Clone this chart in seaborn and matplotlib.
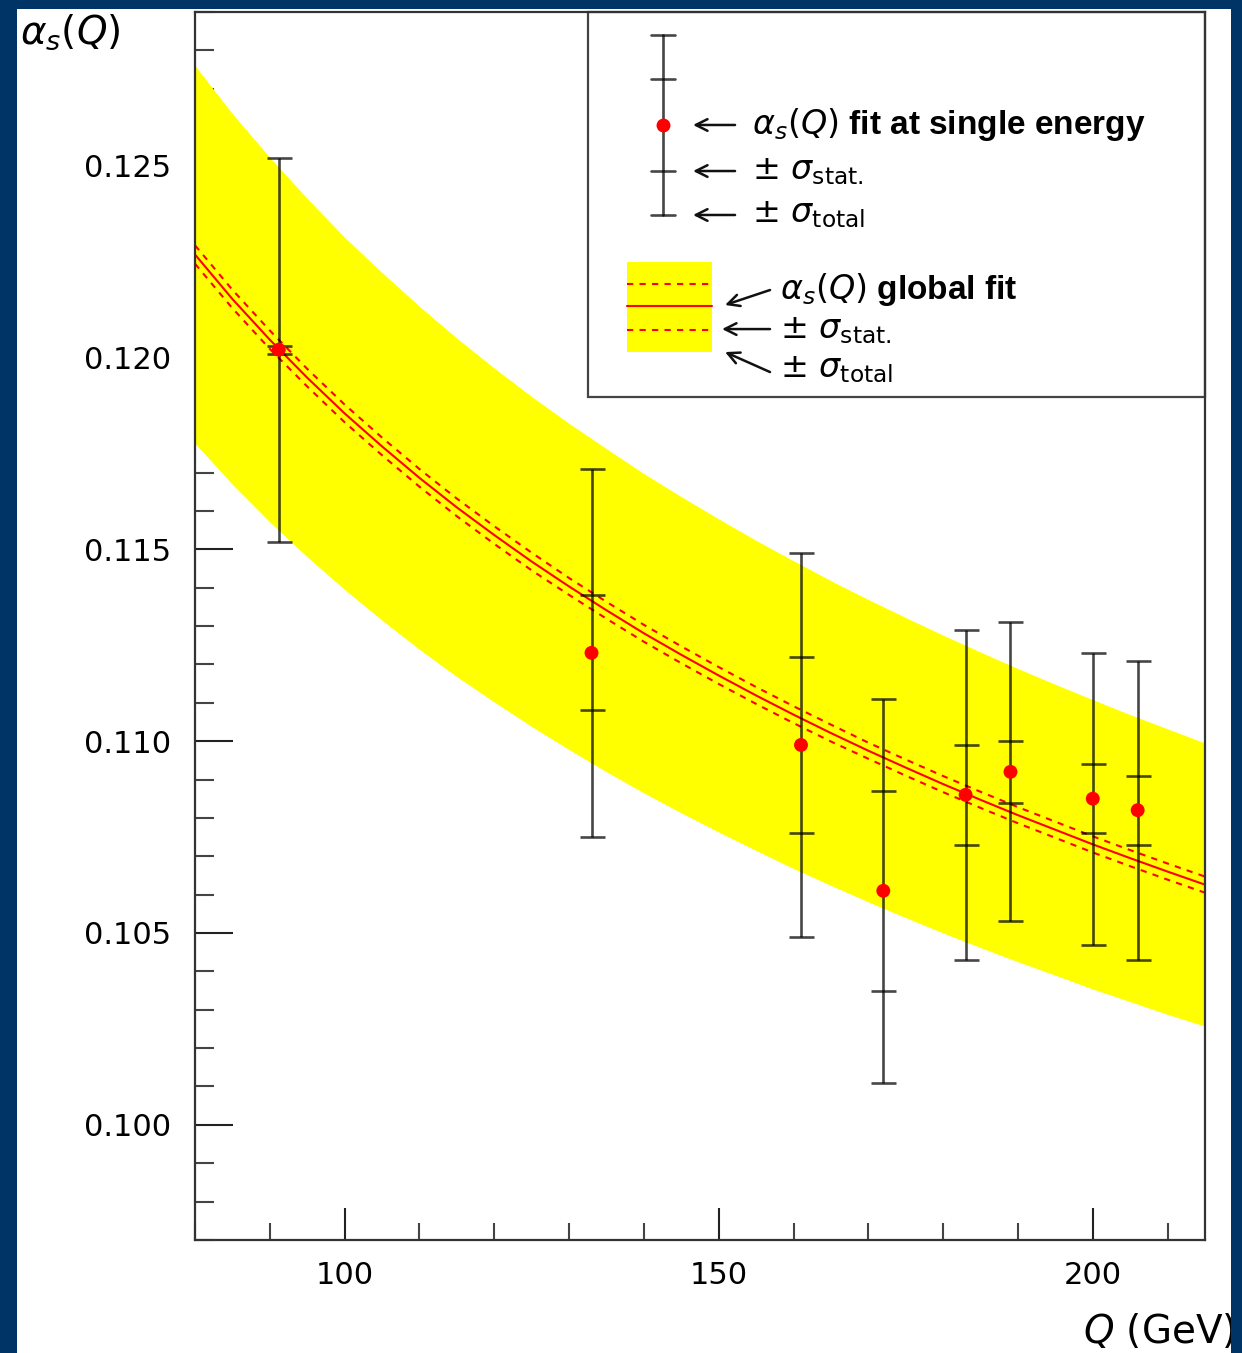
import matplotlib
matplotlib.use("Agg")
import matplotlib.pyplot as plt
import seaborn as sns
from matplotlib.patches import Rectangle
from matplotlib.ticker import MultipleLocator, FormatStrFormatter

# alpha_s fitted at each single centre-of-mass energy
energies = [91.2, 133, 161, 172, 183, 189, 200, 206]
alpha_fit = [0.1202, 0.1123, 0.1099, 0.1061, 0.1086, 0.1092, 0.1085, 0.1082]
stat_err = [0.0001, 0.0015, 0.0023, 0.0026, 0.0013, 0.0008, 0.0009, 0.0009]
total_err = [0.0050, 0.0048, 0.0050, 0.0050, 0.0043, 0.0039, 0.0038, 0.0039]

# global fit: running alpha_s(Q) with its uncertainties
q_grid = [80, 85, 90, 95, 100, 105, 110, 115, 120, 125, 130, 135, 140, 145,
          150, 155, 160, 165, 170, 175, 180, 185, 190, 195, 200, 205, 210, 215]
alpha_global = [0.12268, 0.12152, 0.12046, 0.11947, 0.11854, 0.11768, 0.11686, 0.11609,
                0.11537, 0.11468, 0.11403, 0.11341, 0.11281, 0.11225, 0.11171, 0.11119,
                0.11069, 0.11021, 0.10975, 0.10931, 0.10888, 0.10847, 0.10807, 0.10769,
                0.10731, 0.10695, 0.10660, 0.10626]
global_stat = [0.00024, 0.00024, 0.00024, 0.00023, 0.00023, 0.00023, 0.00023, 0.00023,
               0.00023, 0.00023, 0.00022, 0.00022, 0.00022, 0.00022, 0.00022, 0.00022,
               0.00022, 0.00022, 0.00021, 0.00021, 0.00021, 0.00021, 0.00021, 0.00021,
               0.00021, 0.00021, 0.00021, 0.00021]
global_total = [0.00492, 0.00483, 0.00475, 0.00467, 0.00459, 0.00453, 0.00447, 0.00441,
                0.00435, 0.00430, 0.00425, 0.00421, 0.00416, 0.00412, 0.00408, 0.00404,
                0.00401, 0.00397, 0.00394, 0.00391, 0.00388, 0.00385, 0.00382, 0.00379,
                0.00377, 0.00374, 0.00372, 0.00369]

x_ticks = [100, 150, 200]
y_ticks = [0.100, 0.105, 0.110, 0.115, 0.120, 0.125]

sns.set_theme(style="ticks")
plt.rcParams["font.family"] = ["DejaVu Sans"]
plt.rcParams["text.color"] = "black"

W, H = 1242, 1353
fig = plt.figure(figsize=(W / 100, H / 100), dpi=100, facecolor="white")
ax = fig.add_axes([195 / W, 113 / H, 1010 / W, 1228 / H])
ax.set_facecolor("white")

band_lo = [a - e for a, e in zip(alpha_global, global_total)]
band_hi = [a + e for a, e in zip(alpha_global, global_total)]
stat_lo = [a - e for a, e in zip(alpha_global, global_stat)]
stat_hi = [a + e for a, e in zip(alpha_global, global_stat)]

ax.fill_between(q_grid, band_lo, band_hi, color="#ffff00", lw=0, zorder=1)
sns.lineplot(x=q_grid, y=alpha_global, color="red", lw=1.5, ax=ax, zorder=3)
for s in (stat_lo, stat_hi):
    ax.plot(q_grid, s, color="red", lw=1.5, linestyle=(0, (3, 3)), zorder=3)

ax.errorbar(energies, alpha_fit, yerr=total_err, fmt="none", ecolor="black", alpha=0.72,
            elinewidth=1.9, capsize=9, capthick=1.9, zorder=4)
ax.errorbar(energies, alpha_fit, yerr=stat_err, fmt="none", ecolor="black", alpha=0.72,
            elinewidth=0, capsize=9, capthick=1.9, zorder=4)
sns.scatterplot(x=energies, y=alpha_fit, color="red", s=100, edgecolor="none",
                zorder=5, ax=ax, legend=False)

ax.set_xlim(80, 215)
ax.set_ylim(0.097, 0.129)
ax.set_xticks(x_ticks)
ax.xaxis.set_minor_locator(MultipleLocator(10))
ax.set_yticks(y_ticks)
ax.yaxis.set_minor_locator(MultipleLocator(0.001))
ax.yaxis.set_major_formatter(FormatStrFormatter("%.3f"))
ax.set_xlabel("")
ax.set_ylabel("")

ax.tick_params(axis="y", which="major", direction="in", length=27, width=1.5, color="#222",
               labelsize=22, pad=17, left=True, right=False, labelcolor="black")
ax.tick_params(axis="y", which="minor", direction="in", length=14, width=1.5, color="#444",
               left=True, right=False)
ax.tick_params(axis="x", which="major", direction="in", length=23, width=1.5, color="#222",
               labelsize=22, pad=15, bottom=True, top=False, labelcolor="black")
ax.tick_params(axis="x", which="minor", direction="in", length=12, width=1.5, color="#444",
               bottom=True, top=False)
for sp in ax.spines.values():
    sp.set_visible(True)
    sp.set_linewidth(1.6)
    sp.set_color("#333")
    sp.set_zorder(10)

# legend panel
T = ax.transAxes
ax.add_patch(Rectangle((0.3891, 0.6865), 0.6109, 0.3135, transform=T, facecolor="white",
                       edgecolor="#444", lw=1.6, zorder=6, clip_on=False))

bx = 0.4634
cap = 0.0119
ax.plot([bx, bx], [0.8347, 0.9813], transform=T, color="black", alpha=0.72, lw=1.9,
        zorder=7, clip_on=False)
for yy in (0.9813, 0.9454, 0.8705, 0.8347):
    ax.plot([bx - cap, bx + cap], [yy, yy], transform=T, color="black", alpha=0.72, lw=1.9,
            zorder=7, clip_on=False)
ax.plot([bx], [0.9080], transform=T, marker="o", ms=10, color="red", mec="none",
        zorder=8, clip_on=False)

arrow = dict(arrowstyle="->,head_length=0.7,head_width=0.35", lw=1.8, color="#111",
             shrinkA=0, shrinkB=0)
for yy in (0.9080, 0.8705, 0.8347):
    ax.annotate("", xy=(0.4931, yy), xytext=(0.5347, yy), xycoords=T, textcoords=T,
                arrowprops=arrow, zorder=8)

leg_font = dict(transform=T, va="center", ha="left", zorder=9, fontsize=24, color="black",
                family=["Liberation Sans", "DejaVu Sans"], fontweight="bold")
ax.text(0.5515, 0.9080, r"$\alpha_s(Q)$ fit at single energy", **leg_font)
ax.text(0.5515, 0.8705, r"$\pm\ \sigma_{\mathrm{stat.}}$", **leg_font)
ax.text(0.5515, 0.8347, r"$\pm\ \sigma_{\mathrm{total}}$", **leg_font)

ax.add_patch(Rectangle((0.4277, 0.7231), 0.0842, 0.0733, transform=T, facecolor="#ffff00",
                       lw=0, zorder=7, clip_on=False))
ax.plot([0.4277, 0.5119], [0.7606, 0.7606], transform=T, color="red", lw=1.5, zorder=8,
        clip_on=False)
for yy in (0.7785, 0.7410):
    ax.plot([0.4277, 0.5119], [yy, yy], transform=T, color="red", lw=1.5,
            linestyle=(0, (3, 3)), zorder=8, clip_on=False)

ax.annotate("", xy=(0.5248, 0.7614), xytext=(0.5693, 0.7736), xycoords=T, textcoords=T,
            arrowprops=arrow, zorder=8)
ax.annotate("", xy=(0.5218, 0.7418), xytext=(0.5693, 0.7418), xycoords=T, textcoords=T,
            arrowprops=arrow, zorder=8)
ax.annotate("", xy=(0.5248, 0.7231), xytext=(0.5693, 0.7068), xycoords=T, textcoords=T,
            arrowprops=arrow, zorder=8)
ax.text(0.5792, 0.7744, r"$\alpha_s(Q)$ global fit", **leg_font)
ax.text(0.5792, 0.7410, r"$\pm\ \sigma_{\mathrm{stat.}}$", **leg_font)
ax.text(0.5792, 0.7085, r"$\pm\ \sigma_{\mathrm{total}}$", **leg_font)

# axis titles
fig.text(20 / W, 1 - 32 / H, r"$\alpha_s(Q)$", fontsize=28, ha="left", va="center",
         color="black")
fig.text(1236 / W, 1 - 1331 / H, r"$Q$ (GeV)", fontsize=28, ha="right", va="center",
         color="black")

# dark blue frame around the page
blue = "#003366"
for rect in [(0, 0, 17 / W, 1), (0, 1 - 9 / H, 1, 9 / H), (1231 / W, 0, 11 / W, 1)]:
    fig.add_artist(Rectangle(rect[:2], rect[2], rect[3], transform=fig.transFigure,
                             facecolor=blue, edgecolor="none", zorder=100))

fig.savefig("out.png", dpi=100, facecolor="white")
